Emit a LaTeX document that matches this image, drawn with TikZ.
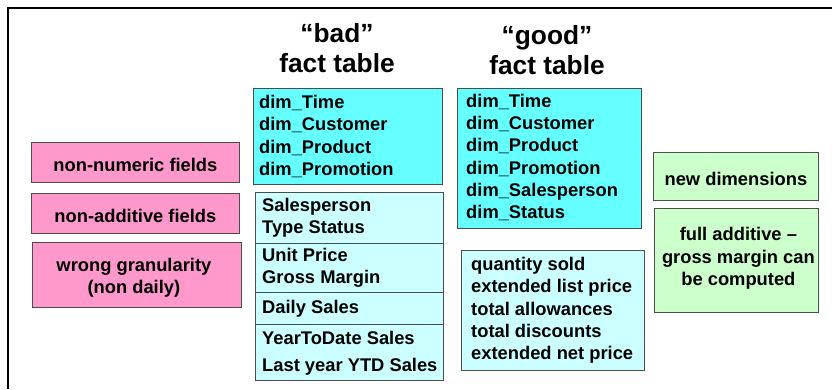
\documentclass[tikz,border=0pt]{standalone}
\usepackage{fontspec}
\setmainfont{Liberation Sans}
\definecolor{pinkc}{HTML}{FF99CC}
\definecolor{dimcyan}{HTML}{66FFFF}
\definecolor{lightcyan}{HTML}{CCFFFF}
\definecolor{lightgreen}{HTML}{CCFFCC}
\begin{document}
\begin{tikzpicture}[x=1bp,y=-1bp,
  box/.style={draw=black!70, line width=0.8bp, inner sep=0pt, anchor=north west},
  txt/.style={font=\bfseries\fontsize{18.4}{22.3}\selectfont, inner sep=0pt},
  ltxt/.style={txt, align=left, anchor=west},
  ctxt/.style={txt, align=center},
  title/.style={font=\bfseries\fontsize{26.4}{30}\selectfont, align=center, inner sep=0pt}
]
\useasboundingbox (0,0) rectangle (832,389);
\draw[line width=1.5bp] (8,389) -- (8,8) -- (832,8);

% titles
\node[title] (badtitle) at (337,48) {“bad”\\fact table};
\node[title] (goodtitle) at (547,50) {“good”\\fact table};

% bad fact table
\node[box, fill=dimcyan, minimum width=189bp, minimum height=96bp] (baddim) at (253,88) {};
\node[ltxt] (baddimt) at ([xshift=6bp]baddim.west)
  {dim\_Time\\dim\_Customer\\dim\_Product\\dim\_Promotion};
\node[box, fill=lightcyan, minimum width=188bp, minimum height=51bp] (bads1) at (255,192) {};
\node[ltxt] (bads1t) at ([xshift=7bp]bads1.west) {Salesperson\\Type Status};
\node[box, fill=lightcyan, minimum width=188bp, minimum height=49bp] (bads2) at (255,243) {};
\node[ltxt] (bads2t) at ([xshift=7bp]bads2.west) {Unit Price\\Gross Margin};
\node[box, fill=lightcyan, minimum width=188bp, minimum height=32bp] (bads3) at (255,292) {};
\node[ltxt] (bads3t) at ([xshift=7bp]bads3.west) {Daily Sales};
\node[box, fill=lightcyan, minimum width=188bp, minimum height=56bp] (bads4) at (255,324) {};
\node[ltxt] (bads4t) at ([xshift=7bp,yshift=-1bp]bads4.west) {YearToDate Sales\\[4.7bp]Last year YTD Sales};

% pink problem boxes
\node[box, fill=pinkc, minimum width=208bp, minimum height=40bp] (nonnum) at (31,142) {};
\node[ctxt] (nonnumt) at ([yshift=-3bp]nonnum.center) {non-numeric fields};
\node[box, fill=pinkc, minimum width=208bp, minimum height=40bp] (nonadd) at (31,193) {};
\node[ctxt] (nonaddt) at ([yshift=-3bp]nonadd.center) {non-additive fields};
\node[box, fill=pinkc, minimum width=209bp, minimum height=65bp] (wrong) at (32,242) {};
\node[ctxt] (wrongt) at ([xshift=-3bp,yshift=-3bp]wrong.center) {wrong granularity\\(non daily)};

% good fact table
\node[box, fill=dimcyan, minimum width=184bp, minimum height=140bp] (gooddim) at (457,88) {};
\node[ltxt] (gooddimt) at ([xshift=9bp,yshift=1bp]gooddim.west)
  {dim\_Time\\dim\_Customer\\dim\_Product\\dim\_Promotion\\dim\_Salesperson\\dim\_Status};
\node[box, fill=lightcyan, minimum width=183bp, minimum height=120bp] (goodmeas) at (461,250) {};
\node[ltxt] (goodmeast) at ([xshift=10bp]goodmeas.west)
  {quantity sold\\extended list price\\total allowances\\total discounts\\extended net price};

% green boxes
\node[box, fill=lightgreen, minimum width=165bp, minimum height=48bp] (newdim) at (653,152) {};
\node[ctxt] (newdimt) at ([yshift=-3bp]newdim.center) {new dimensions};
\node[box, fill=lightgreen, minimum width=164bp, minimum height=104bp] (fulladd) at (654,208) {};
\node[ctxt] (fulladdt) at ([xshift=2bp,yshift=2bp]fulladd.center) {full additive –\\gross margin can\\be computed};
\end{tikzpicture}
\end{document}
